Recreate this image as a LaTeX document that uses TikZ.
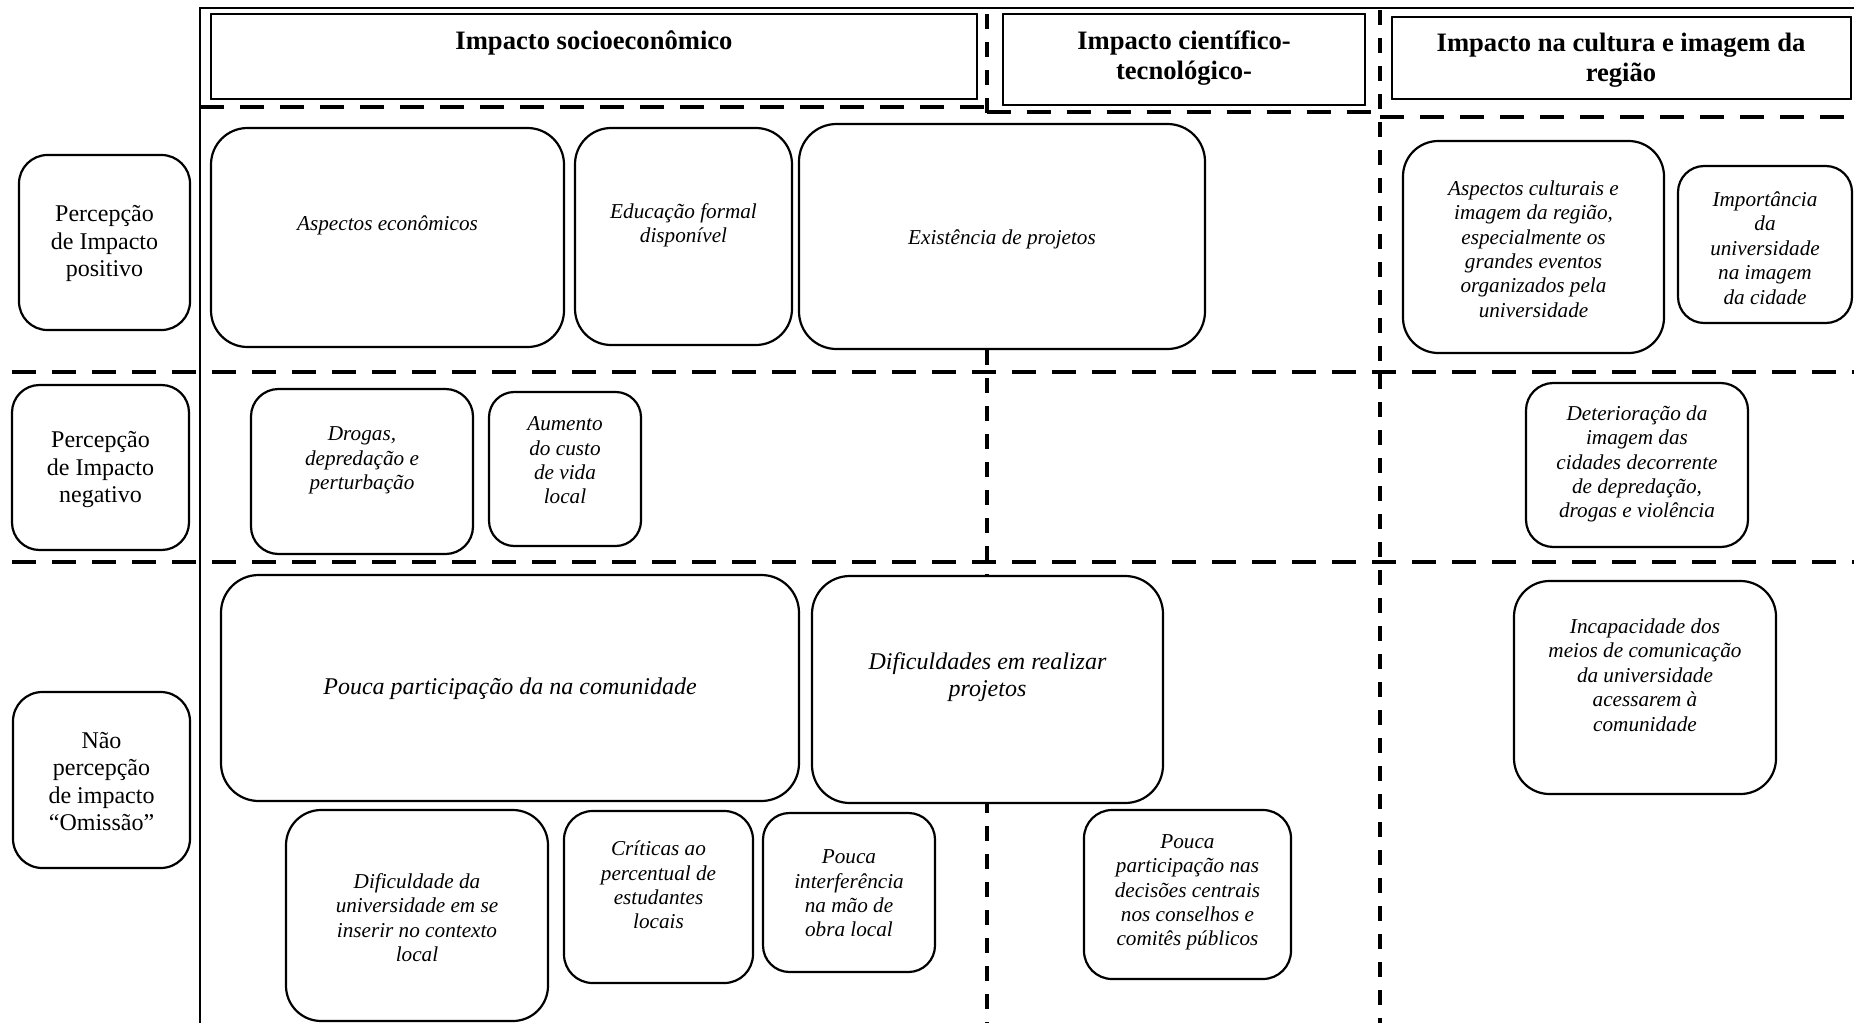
\documentclass[tikz,border=0pt]{standalone}
\usepackage{fontspec}
\setmainfont{Liberation Serif}

% box from corner (x1,y1) to (x2,y2), in pixel units of the picture;
% optional argument: corner radius as a fraction of the shorter side
\newcommand\mkbox[6][0.1667]{%
  \pgfmathsetmacro\bw{(#5-#3)*0.5}%
  \pgfmathsetmacro\bh{(#6-#4)*0.5}%
  \pgfmathsetmacro\br{#1*min(\bw,\bh)+0.001}%
  \node[rbox, minimum width=\bw pt, minimum height=\bh pt, rounded corners=\br pt]
    (#2) at ({(#3+#5)/2},{(#4+#6)/2}) {};}

\tikzset{
  frame/.style={line width=0.65pt},
  rbox/.style={draw, fill=white, line width=1.1pt, inner sep=0pt},
  hdash/.style={line width=2pt, dash pattern=on 12pt off 8pt},
  vdash/.style={line width=2pt, dash pattern=on 7.5pt off 6.5pt},
  smalli/.style={align=center, inner sep=0pt, font=\fontsize{10.6}{12.2}\selectfont\itshape},
  bigi/.style={align=center, inner sep=0pt, font=\fontsize{12}{13.5}\selectfont\itshape},
  rowl/.style={align=center, inner sep=0pt, font=\fontsize{12}{13.8}\selectfont},
  hdrt/.style={align=center, inner sep=0pt, font=\fontsize{13.3}{15}\selectfont\bfseries},
}

\begin{document}
\begin{tikzpicture}[x=0.5pt, y=-0.5pt]
\useasboundingbox[fill=white] (0,0) rectangle (1854,1023);

% outer frame
\coordinate (fr-tr) at (1854,8);
\coordinate (fr-tl) at (200,8);
\coordinate (fr-bl) at (200,1023);
\draw[frame] (fr-tr) -- (fr-tl) -- (fr-bl);

% grid of dashed separators (drawn first, boxes cover them)
\coordinate (v1a) at (987,14);   \coordinate (v1b) at (987,1023);
\coordinate (v2a) at (1380,10);  \coordinate (v2b) at (1380,1023);
\draw[vdash] (v1a) -- (v1b);
\draw[vdash] (v2a) -- (v2b);
\coordinate (ha1) at (200,107);  \coordinate (ha2) at (987,107);
\coordinate (hb1) at (987,112);  \coordinate (hb2) at (1380,112);
\coordinate (hc1) at (1380,117); \coordinate (hc2) at (1854,117);
\draw[hdash] (ha1) -- (ha2);
\draw[hdash] (hb1) -- (hb2);
\draw[hdash] (hc1) -- (hc2);
\coordinate (r2a) at (12,372);   \coordinate (r2b) at (1854,372);
\coordinate (r3a) at (12,562);   \coordinate (r3b) at (1854,562);
\draw[hdash] (r2a) -- (r2b);
\draw[hdash] (r3a) -- (r3b);

% column headers
\begin{scope}[rbox/.append style={line width=0.9pt}]
\mkbox[0]{h1}{211}{14}{977}{99}
\mkbox[0]{h2}{1003}{14}{1365}{105}
\mkbox[0]{h3}{1392}{17}{1851}{99}
\end{scope}
\node[hdrt] (h1t) at (594,43) {Impacto socioeconômico};
\node[hdrt] (h2t) at (1184,58) {Impacto científico-\\tecnológico-};
\node[hdrt] (h3t) at (1621,60) {Impacto na cultura e imagem da\\região};

% row labels
\mkbox{l1}{19}{155}{190}{330}
\mkbox{l2}{12}{385}{189}{550}
\mkbox{l3}{13}{692}{190}{868}
\node[rowl] (l1t) at (104.5,243.5) {Percepção\\de Impacto\\positivo};
\node[rowl] (l2t) at (100.5,469.5) {Percepção\\de Impacto\\negativo};
\node[rowl] (l3t) at (101.5,781.5) {Não\\percepção\\de impacto\\“Omissão”};

% positive perception
\mkbox{p1}{211}{128}{564}{347}
\mkbox{p2}{575}{128}{792}{345}
\mkbox{p3}{799}{124}{1205}{349}
\mkbox{p4}{1403}{141}{1664}{353}
\mkbox{p5}{1678}{166}{1852}{323}
\node[smalli] (p1t) at (387.5,225) {Aspectos econômicos};
\node[smalli] (p2t) at (683.5,225) {Educação formal\\disponível};
\node[smalli] (p3t) at (1002,239) {Existência de projetos};
\node[smalli] (p4t) at (1533.5,249) {Aspectos culturais e\\imagem da região,\\especialmente os\\grandes eventos\\organizados pela\\universidade};
\node[smalli] (p5t) at (1765,248) {Importância\\da\\universidade\\na imagem\\da cidade};

% negative perception
\mkbox{n1}{251}{389}{473}{554}
\mkbox{n2}{489}{392}{641}{546}
\mkbox{n3}{1526}{383}{1748}{547}
\node[smalli] (n1t) at (362,460.5) {Drogas,\\depredação e\\perturbação};
\node[smalli] (n2t) at (565,460.5) {Aumento\\do custo\\de vida\\local};
\node[smalli] (n3t) at (1637,464) {Deterioração da\\imagem das\\cidades decorrente\\de depredação,\\drogas e violência};

% no perceived impact
\mkbox{o1}{221}{575}{799}{801}
\mkbox{o2}{812}{576}{1163}{803}
\mkbox{o3}{1514}{581}{1776}{794}
\mkbox{o4}{286}{810}{548}{1021}
\mkbox{o5}{564}{811}{753}{983}
\mkbox{o6}{763}{813}{935}{972}
\mkbox{o7}{1084}{810}{1291}{979}
\node[bigi] (o1t) at (510,689) {Pouca participação da na comunidade};
\node[bigi] (o2t) at (987.5,677) {Dificuldades em realizar\\projetos};
\node[smalli] (o3t) at (1645,675) {Incapacidade dos\\meios de comunicação\\da universidade\\acessarem à\\comunidade};
\node[smalli] (o4t) at (417,917.5) {Dificuldade da\\universidade em se\\inserir no contexto\\local};
\node[smalli] (o5t) at (658.5,885) {Críticas ao\\percentual de\\estudantes\\locais};
\node[smalli] (o6t) at (849,893.5) {Pouca\\interferência\\na mão de\\obra local};
\node[smalli] (o7t) at (1187.5,892.5) {Pouca\\participação nas\\decisões centrais\\nos conselhos e\\comitês públicos};
\end{tikzpicture}
\end{document}
